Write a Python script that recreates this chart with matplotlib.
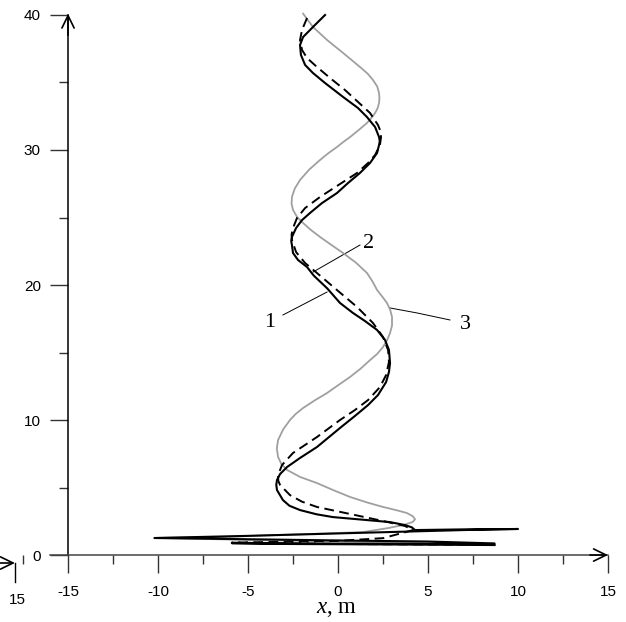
import matplotlib
matplotlib.use("Agg")
import matplotlib.pyplot as plt
from matplotlib.ticker import MultipleLocator

plt.rcParams['font.family'] = 'Liberation Sans'
plt.rcParams['axes.unicode_minus'] = False
plt.rcParams['mathtext.fontset'] = 'custom'
plt.rcParams['mathtext.rm'] = 'Liberation Serif'
plt.rcParams['mathtext.it'] = 'Liberation Serif:italic'

# trajectory 1 (black solid), top to bottom
x1 = [-0.72, -1.28, -1.94, -2.11, -2.06, -1.83, -1.39, -0.72, 0.28, 1.11, 1.61, 2.06, 2.28, 2.32, 2.28,
      2.17, 1.78, 1.22, 0.56, -0.06, -0.89, -1.56, -2.0, -2.33, -2.56, -2.6, -2.56, -2.5, -2.22, -1.72,
      -1.35, -0.6, 0.11, 0.83, 1.5, 2.17, 2.61, 2.83, 2.89, 2.83, 2.67, 2.22, 1.67, 0.94, 0.11,
      -1.17, -2.11, -2.83, -3.22, -3.39, -3.43, -3.39, -3.06, -2.7, -2.11, -1.2, -0.28, 1.61, 2.89, 3.72, 4.1, 4.28,
      7.0, 10.0, 7.0, 0.0, -5.0, -10.2, -5.0, 0.0, 5.0, 8.7, 5.0, 0.0, -5.9, -3.0, 3.0, 8.7]
y1 = [40.0, 39.26, 38.37, 37.78, 37.04, 36.30, 35.70, 34.96, 33.93, 33.11, 32.44, 31.70, 30.96, 30.66, 30.37,
      29.78, 29.04, 28.30, 27.56, 26.81, 26.07, 25.33, 24.81, 24.22, 23.56, 23.26, 22.96, 22.37, 21.85, 21.33,
      20.7, 19.75, 18.67, 17.93, 17.33, 16.67, 15.93, 15.19, 14.22, 13.56, 12.81, 11.85, 11.11, 10.30, 9.41,
      8.0, 7.19, 6.52, 6.0, 5.56, 5.2, 4.81, 4.07, 3.65, 3.33, 3.02, 2.81, 2.59, 2.44, 2.22, 2.05, 1.85,
      1.9, 1.93, 1.85, 1.6, 1.42, 1.26, 1.17, 1.08, 1.0, 0.86, 0.82, 0.84, 0.88, 0.82, 0.78, 0.74]

# trajectory 2 (black dashed)
x2 = [-1.72, -2.0, -2.11, -2.0, -1.72, -1.17, -0.44, 0.39, 1.11, 1.78, 2.22, 2.36, 2.39, 2.33, 2.06,
      1.67, 1.06, 0.11, -1.0, -1.83, -2.28, -2.5, -2.58, -2.56, -2.33, -1.83, -1.17, -0.06, 1.06, 1.94,
      2.5, 2.78, 2.83, 2.67, 2.33, 1.67, 0.94, 0.11, -1.17, -2.5, -3.11, -3.33, -3.32, -3.22, -2.67,
      -2.0, -1.17, 0.67, 2.5, 3.72, 4.17, 2.5, 0.0, -5.9, 0.0, 8.6]
y2 = [39.78, 38.89, 38.15, 37.41, 36.81, 36.15, 35.33, 34.44, 33.56, 32.74, 31.85, 31.4, 30.96, 30.37, 29.63,
      29.04, 28.30, 27.48, 26.52, 25.70, 24.96, 24.22, 23.75, 23.33, 22.44, 21.63, 20.89, 19.63, 18.37, 17.19,
      16.15, 15.19, 14.30, 13.33, 12.44, 11.48, 10.74, 10.0, 8.74, 7.56, 6.67, 5.93, 5.5, 5.19, 4.44,
      3.95, 3.56, 3.04, 2.52, 2.15, 1.85, 1.25, 1.05, 0.92, 0.82, 0.76]

# trajectory 3 (grey)
x3 = [-1.94, -1.39, -0.61, 0.28, 1.22, 1.65, 1.94, 2.18, 2.28, 2.3, 2.28, 2.2, 2.06, 1.85, 1.61,
      1.15, 0.67, 0.3, -0.06, -0.55, -1.0, -1.6, -2.11, -2.4, -2.56, -2.58, -2.5, -2.28, -1.94, -1.5,
      -1.0, -0.35, 0.28, 1.0, 1.61, 1.92, 2.17, 2.47, 2.72, 2.9, 3.0, 3.0, 2.89, 2.72, 2.5,
      2.18, 1.78, 1.25, 0.67, 0.03, -0.61, -1.3, -1.94, -2.35, -2.67, -3.05, -3.33, -3.4, -3.33, -3.15,
      -2.83, -2.1, -1.17, -0.25, 0.67, 1.6, 2.5, 3.25, 3.83, 4.15, 4.28, 4.15, 3.7, 2.8, 1.4,
      -1.5, -4.2, -6.0, -10.1, -5.0, 0.0, 8.6]
y3 = [40.1, 39.11, 38.15, 37.19, 36.15, 35.65, 35.19, 34.7, 34.22, 33.85, 33.48, 33.1, 32.74, 32.37, 32.0,
      31.48, 30.96, 30.6, 30.22, 29.75, 29.26, 28.55, 27.78, 27.15, 26.52, 26.0, 25.56, 25.05, 24.59, 24.07,
      23.56, 22.95, 22.37, 21.65, 20.89, 20.25, 19.63, 19.12, 18.67, 18.15, 17.63, 17.0, 16.44, 15.9, 15.41,
      14.9, 14.44, 13.8, 13.19, 12.6, 12.0, 11.45, 10.89, 10.45, 10.0, 9.3, 8.52, 7.9, 7.26, 6.75,
      6.30, 5.78, 5.33, 4.8, 4.30, 3.9, 3.56, 3.32, 3.11, 2.88, 2.65, 2.45, 2.25, 2.0, 1.7,
      1.56, 1.45, 1.35, 1.27, 1.12, 1.0, 0.78]

# curve labels and their leader lines
labels = ['1', '2', '3']
label_xy = [(-3.78, 17.19), (1.67, 23.11), (7.06, 17.04)]
leaders = [([-3.06, -0.61], [17.78, 19.48]),
           ([1.22, -1.39], [22.96, 20.96]),
           ([2.89, 4.39, 6.22], [18.30, 17.93, 17.41])]

fig = plt.figure(figsize=(6.26, 6.22), dpi=100)
ax = fig.add_axes([0, 0, 1, 1])
ax.set_xlim(-18.78, 16.0)
ax.set_ylim(-4.96, 41.11)
ax.patch.set_visible(False)

ax.plot(x3, y3, color='#a0a0a0', lw=1.3, zorder=3)
ax.plot(x2, y2, color='black', lw=1.4, dashes=(5, 2.8), zorder=4)
ax.plot(x1, y1, color='black', lw=1.5, zorder=5)

for t, (tx, ty), (lx, ly) in zip(labels, label_xy, leaders):
    ax.plot(lx, ly, color='black', lw=0.7)
    ax.text(tx, ty, t, fontsize=16, family='Liberation Serif', ha='center', va='center')

# axes drawn as spines through x=-15 and y=0
for s in ['top', 'right']:
    ax.spines[s].set_visible(False)
ax.spines['left'].set_position(('data', -15))
ax.spines['bottom'].set_position(('data', 0))
ax.spines['left'].set_bounds(0, 40)
ax.spines['bottom'].set_bounds(-16, 15)
ax.spines['left'].set_linewidth(1.1)
ax.spines['bottom'].set_linewidth(1.1)
ax.spines['bottom'].set_color('#444444')

ax.set_xticks(range(-15, 16, 5))
ax.set_yticks(range(0, 41, 10))
ax.xaxis.set_minor_locator(MultipleLocator(2.5))
ax.yaxis.set_minor_locator(MultipleLocator(5))
ax.tick_params(which='major', direction='out', length=13, width=1.0, color='#333333',
               labelsize=11)
ax.tick_params(which='minor', direction='out', length=6.5, width=1.0, color='#333333')
ax.tick_params(axis='x', which='major', pad=8.5)
ax.tick_params(axis='y', which='major', pad=6.5)

arrow = dict(arrowstyle='->,head_length=0.45,head_width=0.22', lw=1.2, color='black',
             mutation_scale=20, shrinkA=0, shrinkB=0)
ax.annotate('', xy=(15, 0), xytext=(14, 0), arrowprops=arrow)
ax.annotate('', xy=(-15, 40.1), xytext=(-15, 38.5), arrowprops=arrow)

ax.text(-0.1, -3.93, '$x$, m', fontsize=16.5, family='Liberation Serif', ha='center', va='center')

# leftover piece of a third axis in the lower left corner
ax.annotate('', xy=(-17.95, -0.59), xytext=(-18.78, -0.59), arrowprops=arrow, annotation_clip=False)
ax.plot([-17.95, -17.95], [-0.59, -2.0], color='black', lw=1.0, clip_on=False)
ax.text(-17.83, -3.33, '15', fontsize=11, ha='center', va='center')

plt.savefig('out.png', dpi=100)
